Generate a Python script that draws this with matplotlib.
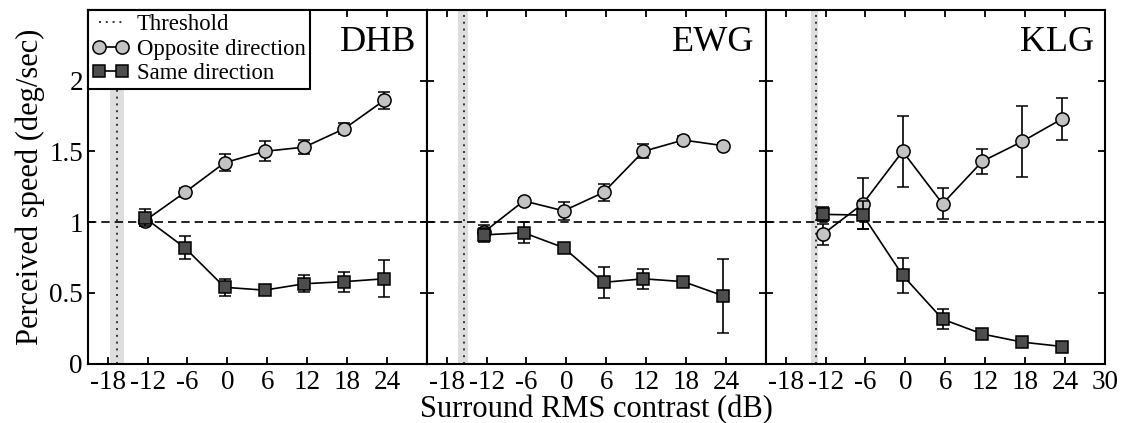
import matplotlib
matplotlib.use("Agg")
import matplotlib.pyplot as plt
from matplotlib.lines import Line2D

plt.rcParams.update({
    "font.family": ["Liberation Serif", "DejaVu Serif"],
    "font.size": 19.5,
    "axes.linewidth": 1.5,
    "xtick.direction": "in",
    "ytick.direction": "in",
    "xtick.top": True,
    "ytick.right": True,
    "xtick.major.size": 5,
    "ytick.major.size": 5,
    "xtick.major.width": 1.3,
    "ytick.major.width": 1.3,
})

# surround contrast levels (dB), as plotted
CONTRAST = [-12.4, -6.4, -0.4, 5.6, 11.6, 17.6, 23.6]

SUBJECTS = ["DHB", "EWG", "KLG"]

# opposite direction surround
DHB_OPP = [1.01, 1.21, 1.42, 1.50, 1.53, 1.66, 1.86]
DHB_OPP_ERR = [0.04, 0.03, 0.06, 0.07, 0.05, 0.04, 0.06]
EWG_OPP = [0.93, 1.15, 1.08, 1.21, 1.50, 1.58, 1.54]
EWG_OPP_ERR = [0.05, 0.02, 0.065, 0.06, 0.05, 0.03, 0.02]
KLG_OPP = [0.915, 1.13, 1.50, 1.13, 1.43, 1.57, 1.73]
KLG_OPP_ERR = [0.075, 0.18, 0.25, 0.11, 0.09, 0.25, 0.15]

# same direction surround
DHB_SAME = [1.03, 0.82, 0.54, 0.52, 0.565, 0.58, 0.60]
DHB_SAME_ERR = [0.06, 0.08, 0.06, 0.03, 0.06, 0.07, 0.13]
EWG_SAME = [0.91, 0.925, 0.82, 0.575, 0.60, 0.58, 0.48]
EWG_SAME_ERR = [0.05, 0.075, 0.03, 0.11, 0.07, 0.03, 0.26]
KLG_SAME = [1.055, 1.05, 0.625, 0.315, 0.21, 0.153, 0.122]
KLG_SAME_ERR = [0.05, 0.1, 0.125, 0.07, 0.03, 0.02, 0.02]

# detection threshold (dB) with its uncertainty band
THRESH = [-16.6, -15.4, -13.5]
THRESH_LO = [-17.7, -16.3, -14.2]
THRESH_HI = [-15.6, -14.8, -13.1]

OPP = [DHB_OPP, EWG_OPP, KLG_OPP]
OPP_ERR = [DHB_OPP_ERR, EWG_OPP_ERR, KLG_OPP_ERR]
SAME = [DHB_SAME, EWG_SAME, KLG_SAME]
SAME_ERR = [DHB_SAME_ERR, EWG_SAME_ERR, KLG_SAME_ERR]

XTICKS = [-18, -12, -6, 0, 6, 12, 18, 24, 30]
YTICKS = [0, 0.5, 1, 1.5, 2]
YTICKLABELS = ["0", "0.5", "1", "1.5", "2"]

LIGHT = "#c3c3c3"
DARK = "#4d4d4d"

fig, axes = plt.subplots(1, 3, figsize=(11.25, 4.23), dpi=100, sharey=True)
fig.subplots_adjust(left=0.078, right=0.982, bottom=0.14, top=0.977, wspace=0)

for i, ax in enumerate(axes):
    ax.axvspan(THRESH_LO[i], THRESH_HI[i], color="#dedede", lw=0, zorder=0)
    ax.axvline(THRESH[i], color="#333333", ls=(0, (1, 2.5)), lw=1.4, zorder=1)
    ax.axhline(1, color="black", ls=(0, (5, 3)), lw=1.2, zorder=1)

    ax.errorbar(CONTRAST, OPP[i], yerr=OPP_ERR[i], color="black", lw=1.2,
                marker="o", ms=9.5, mfc=LIGHT, mec="black", mew=1.1,
                capsize=4.5, capthick=1.2, elinewidth=1.2, zorder=3)
    ax.errorbar(CONTRAST, SAME[i], yerr=SAME_ERR[i], color="black", lw=1.2,
                marker="s", ms=8.7, mfc=DARK, mec="black", mew=1.1,
                capsize=4.5, capthick=1.2, elinewidth=1.2, zorder=4)

    ax.set_xlim(-21, 30)
    ax.set_ylim(0, 2.5)
    ax.set_xticks(XTICKS)
    labels = [str(t) for t in XTICKS]
    if i < 2:
        labels[-1] = ""
    ax.set_xticklabels(labels)
    ax.set_yticks(YTICKS)
    ax.tick_params(axis="x", pad=4.5)
    ax.text(0.968, 0.955, SUBJECTS[i], transform=ax.transAxes,
            ha="right", va="top", fontsize=26)

axes[0].set_yticklabels(YTICKLABELS)
for ax in axes[1:]:
    ax.tick_params(axis="y", labelleft=False)

axes[0].set_ylabel("Perceived speed (deg/sec)", fontsize=22, labelpad=3)
fig.text(0.53, 0.013, "Surround RMS contrast (dB)", ha="center", va="baseline",
         fontsize=22)

handles = [
    Line2D([], [], color="#333333", ls=(0, (1, 2.5)), lw=1.4),
    Line2D([], [], color="black", lw=1.2, marker="o", ms=9.5, mfc=LIGHT,
           mec="black", mew=1.1),
    Line2D([], [], color="black", lw=1.2, marker="s", ms=8.7, mfc=DARK,
           mec="black", mew=1.1),
]
leg = axes[0].legend(handles, ["Threshold", "Opposite direction", "Same direction"],
                     loc="upper left", bbox_to_anchor=(0, 1), borderaxespad=0,
                     fontsize=16.4, numpoints=2, handlelength=1.6, handletextpad=0.35,
                     labelspacing=0.15, borderpad=0.2, fancybox=False,
                     framealpha=1, edgecolor="black")
leg.get_frame().set_linewidth(1.5)
leg.set_zorder(10)

fig.savefig("out.png", dpi=100)
